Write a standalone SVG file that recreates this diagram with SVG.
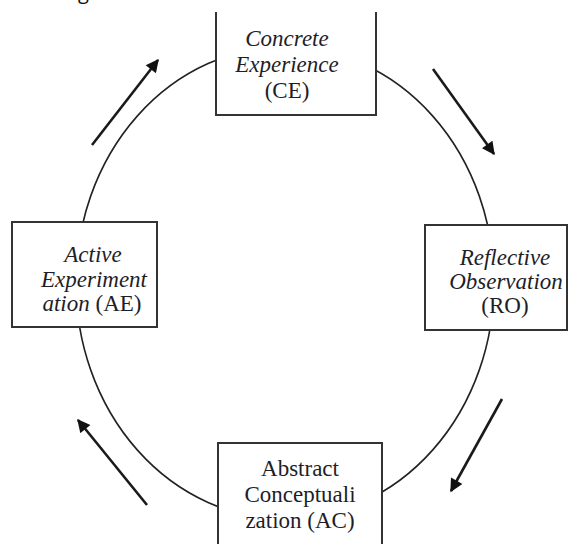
<svg xmlns="http://www.w3.org/2000/svg" width="579" height="544" viewBox="0 0 579 544">
<style>
.box{fill:#fff;stroke:none}
.edge{fill:none;stroke:#333;stroke-width:2}
text.t{font-family:'Liberation Serif','DejaVu Serif',serif;font-size:23px;fill:#1e1e28;text-anchor:middle}
.i{font-style:italic}
.cyc{fill:none;stroke:#222;stroke-width:1.6}
.arr{fill:none;stroke:#1a1a1a;stroke-width:2.6}
</style>
<defs>
<marker id="ah" viewBox="0 0 10 10" refX="9" refY="5" markerWidth="5.5" markerHeight="5" markerUnits="strokeWidth" orient="auto">
<path d="M0,0 L10,5 L0,10 Z" fill="#111"/>
</marker>
</defs>
<rect width="579" height="544" fill="#fff"/>
<text x="78" y="-1" font-family="'Open Sans', sans-serif" font-size="20" fill="#111">g</text>
<g id="connectors">
<ellipse class="cyc" cx="285" cy="283" rx="209" ry="236"/>
<line class="arr" x1="92" y1="145" x2="158" y2="60" marker-end="url(#ah)"/>
<line class="arr" x1="433" y1="69" x2="494" y2="154" marker-end="url(#ah)"/>
<line class="arr" x1="502" y1="399" x2="451" y2="491" marker-end="url(#ah)"/>
<line class="arr" x1="147" y1="505" x2="78" y2="420" marker-end="url(#ah)"/>
</g>
<g id="ce">
<rect class="box" x="216" y="12" width="160" height="103"/>
<path class="edge" d="M216,12 V115 H376 V12"/>
<text class="t i" x="287" y="46" font-family="'Liberation Serif', serif">Concrete</text>
<text class="t i" x="287" y="72" font-family="'Liberation Serif', serif">Experience</text>
<text class="t" x="287" y="98" font-family="'Liberation Serif', serif">(CE)</text>
</g>
<g id="ro">
<rect class="box" x="425" y="225" width="142" height="105"/>
<rect class="edge" x="425" y="225" width="142" height="105"/>
<text class="t i" x="505" y="265" font-family="'Liberation Serif', serif">Reflective</text>
<text class="t i" x="506" y="289" font-family="'Liberation Serif', serif">Observation</text>
<text class="t" x="505" y="313" font-family="'Liberation Serif', serif">(RO)</text>
</g>
<g id="ac">
<rect class="box" x="218" y="443" width="164" height="110"/>
<path class="edge" d="M218,550 V443 H382 V550"/>
<text class="t" x="300" y="476" font-family="'Liberation Serif', serif">Abstract</text>
<text class="t" x="300" y="502" font-family="'Liberation Serif', serif">Conceptuali</text>
<text class="t" x="300" y="528" font-family="'Liberation Serif', serif">zation (AC)</text>
</g>
<g id="ae">
<rect class="box" x="12" y="222" width="145" height="105"/>
<rect class="edge" x="12" y="222" width="145" height="105"/>
<text class="t i" x="93" y="262" font-family="'Liberation Serif', serif">Active</text>
<text class="t i" x="94" y="287" font-family="'Liberation Serif', serif">Experiment</text>
<text class="t" x="92" y="311" font-family="'Liberation Serif', serif"><tspan font-style="italic">ation</tspan> (AE)</text>
</g>
</svg>
